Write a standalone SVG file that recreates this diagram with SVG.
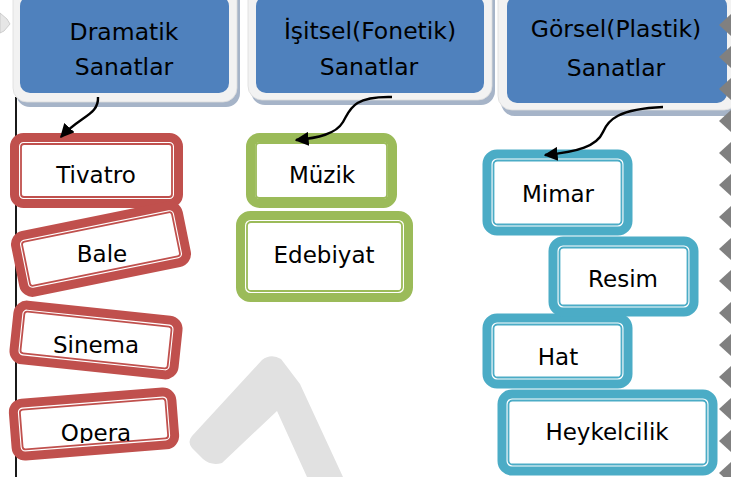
<svg xmlns="http://www.w3.org/2000/svg" width="731" height="477" viewBox="0 0 731 477">
<style>
.hdr-sh{fill:#a6b4c8}
.hdr-fr{fill:#f2f2f2;stroke:#dcdcdc;stroke-width:0.8}
.hdr-bl{fill:#4f81bd}
.ht{font-family:"DejaVu Sans",sans-serif;font-size:23.5px;fill:#000;text-anchor:middle}
.it{font-family:"DejaVu Sans",sans-serif;font-size:23px;fill:#000;text-anchor:middle}
.o{fill:#fff;stroke-width:9}
.i{fill:none;stroke-width:1.8}
.red{stroke:#c0504d}
.grn{stroke:#9bbb59}
.blu{stroke:#4bacc6}
.conn{fill:none;stroke:#000;stroke-width:2.4}
.tri{fill:#808080}
</style>
<defs>
<marker id="ah" viewBox="0 0 10 10" refX="9" refY="5" markerWidth="14" markerHeight="14" markerUnits="userSpaceOnUse" orient="auto">
<path d="M0,0 L10,5 L0,10 z" fill="#000"/>
</marker>
<clipPath id="opclip"><rect x="0" y="380" width="200" height="63"/></clipPath>
</defs>
<rect width="731" height="477" fill="#fff"/>

<!-- background decoration -->
<polygon points="0,13 7,19 10,24 4,31 0,33" fill="#e6e6e6" stroke="#c4c4c4" stroke-width="0.8"/>
<path d="M192,436 L262,360 Q271,353 281,359 L300,384 L343,477 L307,477 L277,411 L222,463 Q211,466 203,459 L192,448 Q187,442 192,436 Z" fill="#e1e1e1"/>
<line x1="16" y1="97" x2="16" y2="477" stroke="#000" stroke-width="1.8"/>

<!-- headers -->
<g id="dramatik">
<rect class="hdr-sh" x="16" y="-20" width="224" height="127" rx="14"/>
<rect class="hdr-fr" x="13" y="-20" width="224" height="122" rx="14"/>
<rect class="hdr-bl" x="20" y="-4" width="209" height="97" rx="10"/>
<text class="ht" x="124" y="40">Dramatik</text>
<text class="ht" x="124" y="75">Sanatlar</text>
</g>
<g id="isitsel">
<rect class="hdr-sh" x="251" y="-20" width="244" height="125" rx="14"/>
<rect class="hdr-fr" x="248" y="-20" width="244" height="120" rx="14"/>
<rect class="hdr-bl" x="256" y="-4" width="228" height="97" rx="10"/>
<text class="ht" x="370" y="39">İşitsel(Fonetik)</text>
<text class="ht" x="369" y="75">Sanatlar</text>
</g>
<g id="gorsel">
<rect class="hdr-sh" x="501" y="-20" width="240" height="136" rx="14"/>
<rect class="hdr-fr" x="498" y="-20" width="240" height="130" rx="14"/>
<rect class="hdr-bl" x="507" y="-4" width="220" height="107" rx="10"/>
<text class="ht" x="616" y="37">Görsel(Plastik)</text>
<text class="ht" x="616" y="76">Sanatlar</text>
</g>

<!-- red column -->
<g id="tivatro">
<rect class="o red" x="14.5" y="137.5" width="164" height="66" rx="9"/>
<rect class="i red" x="21" y="144" width="151" height="53" rx="3"/>
<text class="it" x="96" y="183">Tivatro</text>
</g>
<g id="bale">
<g transform="rotate(-11.5 101 249)">
<rect class="o red" x="18" y="220" width="166" height="58" rx="9"/>
<rect class="i red" x="24.5" y="226.5" width="153" height="45" rx="3"/>
</g>
<text class="it" x="102" y="262">Bale</text>
</g>
<g id="sinema">
<g transform="rotate(6 96 340)">
<rect class="o red" x="15.5" y="312.5" width="161" height="55" rx="9"/>
<rect class="i red" x="22" y="319" width="148" height="42" rx="3"/>
</g>
<text class="it" x="96" y="353">Sinema</text>
</g>
<g id="opera">
<g transform="rotate(-4.5 94 424)">
<rect class="o red" x="14.5" y="397.5" width="159" height="53" rx="9"/>
<rect class="i red" x="21" y="404" width="146" height="40" rx="3"/>
</g>
<text class="it" x="96" y="441" clip-path="url(#opclip)">Opera</text>
</g>

<!-- green column -->
<g id="muzik">
<rect class="o grn" x="250.5" y="137.5" width="142" height="66" rx="9"/>
<rect class="i grn" x="256" y="143" width="131" height="55" rx="3"/>
<text class="it" x="322" y="183">Müzik</text>
</g>
<g id="edebiyat">
<rect class="o grn" x="240.5" y="215.5" width="168" height="82" rx="10"/>
<rect class="i grn" x="247" y="222" width="155" height="69" rx="4"/>
<text class="it" x="324" y="263">Edebiyat</text>
</g>

<!-- blue column -->
<g id="mimar">
<rect class="o blu" x="487" y="154" width="141" height="77" rx="10"/>
<rect class="i blu" x="493.5" y="160.5" width="128" height="64" rx="4"/>
<text class="it" x="558" y="202">Mimar</text>
</g>
<g id="hat">
<rect class="o blu" x="487" y="318" width="141" height="66" rx="10"/>
<rect class="i blu" x="493.5" y="324.5" width="128" height="53" rx="4"/>
<text class="it" x="558" y="365">Hat</text>
</g>
<g id="resim">
<rect class="o blu" x="553" y="241" width="141" height="71" rx="10"/>
<rect class="i blu" x="559.5" y="247.5" width="128" height="58" rx="4"/>
<text class="it" x="623" y="287">Resim</text>
</g>
<g id="heykelcilik">
<rect class="o blu" x="502" y="394" width="211" height="77" rx="10"/>
<rect class="i blu" x="508.5" y="400.5" width="198" height="64" rx="4"/>
<text class="it" x="607" y="440">Heykelcilik</text>
</g>

<!-- connectors -->
<g id="connectors">
<path class="conn" d="M98,97 C99,115 80,116 61,137" marker-end="url(#ah)"/>
<path class="conn" d="M392,97 C352,96 350,110 343,122 C336,134 318,138 296,140" marker-end="url(#ah)"/>
<path class="conn" d="M663,107 C618,109 608,120 603,132 C597,146 578,152 545,155" marker-end="url(#ah)"/>
</g>

<!-- right edge zigzag -->
<g id="edge">
<polygon class="tri" points="719,25 731,14 743,25 731,36"/>
<polygon class="tri" points="719,57 731,46 743,57 731,68"/>
<polygon class="tri" points="719,89 731,78 743,89 731,100"/>
<polygon class="tri" points="719,121 731,110 743,121 731,132"/>
<polygon class="tri" points="719,153 731,142 743,153 731,164"/>
<polygon class="tri" points="719,185 731,174 743,185 731,196"/>
<polygon class="tri" points="719,217 731,206 743,217 731,228"/>
<polygon class="tri" points="719,249 731,238 743,249 731,260"/>
<polygon class="tri" points="719,281 731,270 743,281 731,292"/>
<polygon class="tri" points="719,313 731,302 743,313 731,324"/>
<polygon class="tri" points="719,345 731,334 743,345 731,356"/>
<polygon class="tri" points="719,377 731,366 743,377 731,388"/>
<polygon class="tri" points="719,409 731,398 743,409 731,420"/>
<polygon class="tri" points="719,441 731,430 743,441 731,452"/>
<polygon class="tri" points="719,473 731,462 743,473 731,484"/>
</g>
</svg>
